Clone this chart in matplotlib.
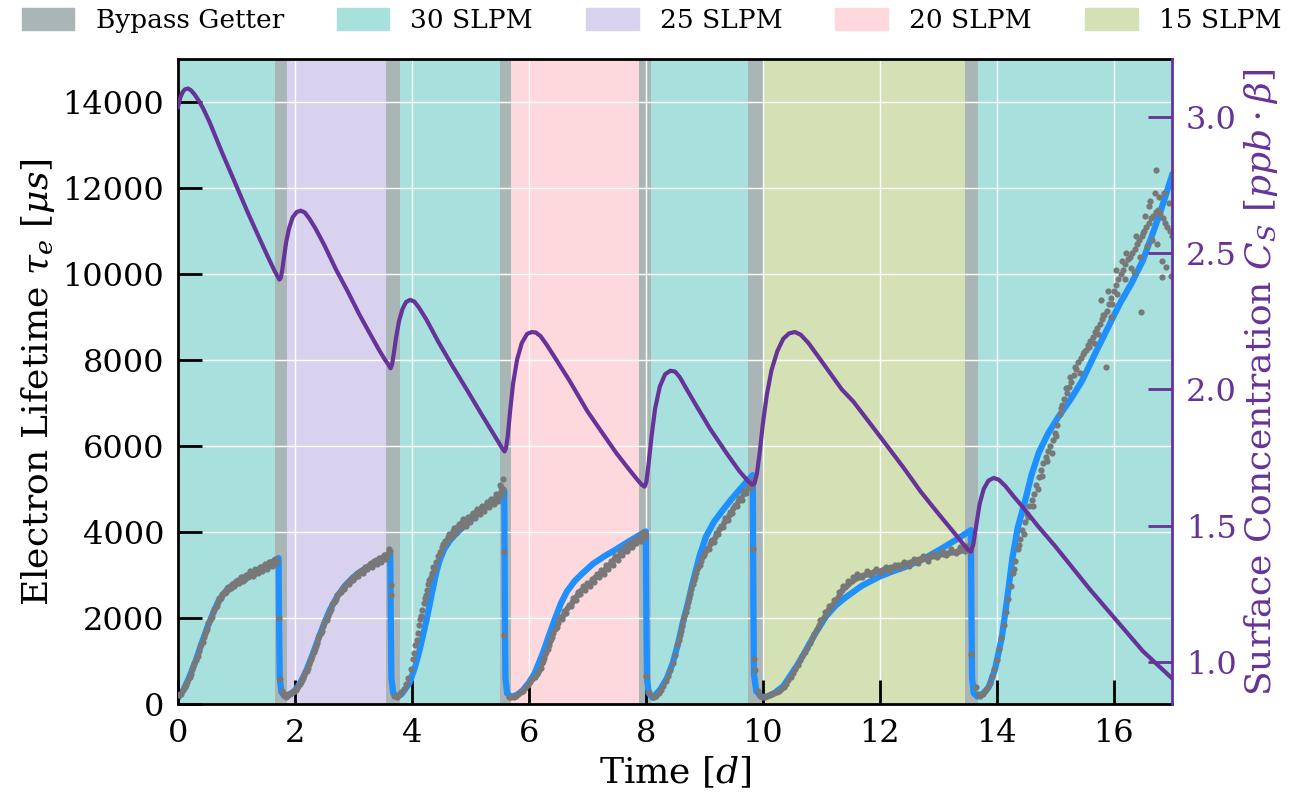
import numpy as np
import matplotlib.pyplot as plt

plt.rcParams['font.family'] = 'DejaVu Serif'
plt.rcParams['mathtext.fontset'] = 'dejavuserif'

# flow periods [d]
getter_bypass = [(1.66, 1.86), (3.55, 3.80), (5.50, 5.70), (7.89, 8.09), (9.75, 10.03), (13.46, 13.69)]
flow_periods = [(0.0, 1.66, "30 SLPM"), (1.86, 3.55, "25 SLPM"), (3.80, 5.50, "30 SLPM"),
                (5.70, 7.89, "20 SLPM"), (8.09, 9.75, "30 SLPM"), (10.03, 13.46, "15 SLPM"),
                (13.69, 17.0, "30 SLPM")]
flow_colors = {"30 SLPM": "#a7e0dc", "25 SLPM": "#d8d2ee", "20 SLPM": "#fdd8dd", "15 SLPM": "#d3e1b4"}
legend_order = ["30 SLPM", "25 SLPM", "20 SLPM", "15 SLPM"]

# model fit of electron lifetime (t [d], tau [us])
fit_pts = [
    (0.00, 150), (0.10, 350), (0.20, 650), (0.30, 1000), (0.40, 1400), (0.50, 1780), (0.60, 2120),
    (0.70, 2420), (0.85, 2680), (1.00, 2830), (1.15, 2950), (1.30, 3060), (1.45, 3170), (1.60, 3290),
    (1.72, 3400), (1.73, 1800), (1.74, 600), (1.77, 280), (1.82, 190), (1.90, 220), (2.00, 320),
    (2.10, 520), (2.20, 800), (2.30, 1150), (2.40, 1520), (2.50, 1880), (2.60, 2200), (2.72, 2500),
    (2.85, 2750), (3.00, 2960), (3.15, 3110), (3.30, 3240), (3.45, 3360), (3.60, 3480), (3.63, 3510),
    (3.64, 1800), (3.65, 600), (3.68, 260), (3.74, 180), (3.82, 230), (3.90, 380), (3.96, 500),
    (4.05, 850), (4.13, 1250), (4.25, 1960), (4.36, 2700), (4.42, 3080), (4.47, 3330), (4.55, 3600),
    (4.65, 3810), (4.76, 3975), (4.95, 4220), (5.21, 4520), (5.40, 4720), (5.50, 4830), (5.58, 4960),
    (5.59, 2000), (5.60, 600), (5.63, 250), (5.70, 170), (5.80, 220), (5.90, 330), (6.00, 500),
    (6.10, 720), (6.24, 1190), (6.35, 1620), (6.45, 2000), (6.55, 2350), (6.65, 2620), (6.78, 2860),
    (6.92, 3050), (7.10, 3270), (7.30, 3450), (7.49, 3600), (7.70, 3780), (7.85, 3900), (8.00, 4020),
    (8.01, 2000), (8.02, 600), (8.05, 260), (8.12, 150), (8.25, 350), (8.36, 600), (8.46, 950),
    (8.55, 1400), (8.63, 1880), (8.72, 2350), (8.80, 2815), (8.92, 3450), (9.03, 3900), (9.17, 4250),
    (9.32, 4520), (9.46, 4760), (9.60, 4985), (9.72, 5170), (9.83, 5330),
    (9.84, 2500), (9.85, 700), (9.89, 300), (9.98, 170), (10.06, 175), (10.20, 260), (10.35, 420),
    (10.46, 640), (10.60, 930), (10.74, 1260), (10.90, 1650), (11.08, 2040), (11.25, 2300),
    (11.43, 2500), (11.70, 2760), (12.00, 2970), (12.20, 3080), (12.45, 3200), (12.75, 3380),
    (13.02, 3590), (13.30, 3820), (13.56, 4050),
    (13.57, 2000), (13.58, 600), (13.61, 260), (13.67, 180), (13.76, 240), (13.86, 385), (13.97, 800),
    (14.09, 1565), (14.18, 2450), (14.27, 3400), (14.36, 4100), (14.49, 4750), (14.60, 5350),
    (14.72, 5850), (14.88, 6300), (15.06, 6690), (15.25, 7060), (15.46, 7520), (15.70, 8200),
    (15.91, 8780), (16.10, 9300), (16.31, 9800), (16.50, 10320), (16.65, 10875), (16.80, 11450),
    (16.94, 12040), (17.00, 12300),
]

# measured electron lifetime
meas_pts = [
    # 30 SLPM
    (0.02, 210), (0.06, 250), (0.10, 380), (0.14, 440), (0.18, 610), (0.22, 700), (0.26, 900),
    (0.30, 1040), (0.34, 1130), (0.38, 1350), (0.42, 1450), (0.46, 1660), (0.50, 1760), (0.54, 1950),
    (0.58, 2040), (0.62, 2210), (0.66, 2280), (0.70, 2460), (0.74, 2480), (0.78, 2600), (0.82, 2620),
    (0.86, 2720), (0.90, 2700), (0.94, 2800), (0.98, 2790), (1.02, 2880), (1.06, 2860), (1.10, 2950),
    (1.14, 2920), (1.18, 3010), (1.22, 2980), (1.26, 3080), (1.30, 3040), (1.34, 3130), (1.38, 3090),
    (1.42, 3190), (1.46, 3150), (1.50, 3240), (1.54, 3220), (1.58, 3320), (1.62, 3260), (1.66, 3390),
    (1.70, 3330), (1.73, 2000), (1.74, 580),
    (0.04, 230), (0.08, 330), (0.12, 400), (0.16, 520), (0.20, 640), (0.24, 820), (0.28, 950),
    (0.32, 1100), (0.36, 1250), (0.40, 1400), (0.44, 1570), (0.48, 1700), (0.52, 1880), (0.56, 2000),
    (0.60, 2150), (0.64, 2250), (0.68, 2380), (0.72, 2450), (0.76, 2560), (0.80, 2580), (0.84, 2700),
    (0.88, 2680), (0.92, 2790), (0.96, 2750), (1.00, 2860), (1.04, 2830), (1.08, 2950), (1.12, 2870),
    (1.16, 3000), (1.20, 2950), (1.24, 3100), (1.28, 2990), (1.32, 3150), (1.36, 3050), (1.40, 3200),
    (1.44, 3100), (1.48, 3260), (1.52, 3150), (1.56, 3300), (1.60, 3210), (1.64, 3360), (1.68, 3280),
    # 25 SLPM
    (1.78, 300), (1.82, 220), (1.86, 200), (1.90, 230), (1.94, 260), (1.98, 300), (2.02, 340),
    (2.06, 430), (2.10, 520), (2.14, 600), (2.18, 740), (2.22, 840), (2.26, 1000), (2.30, 1120),
    (2.34, 1290), (2.38, 1420), (2.42, 1600), (2.46, 1700), (2.50, 1880), (2.54, 1960), (2.58, 2130),
    (2.62, 2210), (2.66, 2380), (2.70, 2440), (2.74, 2560), (2.78, 2610), (2.82, 2700), (2.86, 2740),
    (2.90, 2830), (2.94, 2860), (2.98, 2940), (3.02, 2960), (3.06, 3050), (3.10, 3050), (3.14, 3120),
    (3.18, 3130), (3.22, 3200), (3.26, 3210), (3.30, 3280), (3.34, 3260), (3.38, 3350), (3.42, 3330),
    (3.46, 3410), (3.50, 3380), (3.54, 3470), (3.58, 3430), (3.62, 3560), (3.65, 2775), (3.65, 2550),
    (1.80, 260), (1.84, 180), (1.88, 240), (1.92, 250), (1.96, 290), (2.00, 330), (2.04, 380),
    (2.08, 470), (2.12, 570), (2.16, 680), (2.20, 780), (2.24, 930), (2.28, 1060), (2.32, 1220),
    (2.36, 1360), (2.40, 1530), (2.44, 1660), (2.48, 1810), (2.52, 1950), (2.56, 2060), (2.60, 2180),
    (2.64, 2330), (2.68, 2400), (2.72, 2530), (2.76, 2580), (2.80, 2680), (2.84, 2690), (2.88, 2800),
    (2.92, 2790), (2.96, 2910), (3.00, 2880), (3.04, 3020), (3.08, 2990), (3.12, 3110), (3.16, 3060),
    (3.20, 3190), (3.24, 3140), (3.28, 3270), (3.32, 3200), (3.36, 3330), (3.40, 3260), (3.44, 3400),
    (3.48, 3320), (3.52, 3470), (3.56, 3390), (3.60, 3520), (3.61, 3600),
    # 30 SLPM
    (3.70, 200), (3.74, 180), (3.78, 220), (3.82, 280), (3.86, 350), (3.90, 460), (3.94, 600),
    (3.98, 820), (4.02, 1050), (4.06, 1380), (4.10, 1650), (4.14, 1980), (4.18, 2200), (4.22, 2480),
    (4.26, 2650), (4.30, 2900), (4.34, 3050), (4.38, 3150), (4.42, 3300), (4.46, 3480), (4.50, 3560),
    (4.54, 3720), (4.58, 3760), (4.62, 3900), (4.66, 3920), (4.70, 4030), (4.74, 4020), (4.78, 4130),
    (4.82, 4120), (4.86, 4230), (4.90, 4200), (4.94, 4310), (4.98, 4290), (5.02, 4400), (5.06, 4360),
    (5.10, 4480), (5.14, 4450), (5.18, 4560), (5.22, 4510), (5.26, 4640), (5.30, 4600), (5.34, 4720),
    (5.38, 4680), (5.42, 4790), (5.46, 4760), (5.50, 4900), (5.52, 5050), (5.54, 4860), (5.56, 5230),
    (5.57, 3550), (5.57, 1610),
    (4.04, 1200), (4.08, 1500), (4.12, 1850), (4.16, 2050), (4.20, 2350), (4.24, 2550), (4.28, 2800),
    (4.32, 2950), (4.36, 3200), (4.40, 3150), (4.44, 3450), (4.48, 3550), (4.52, 3650), (4.56, 3800),
    (4.60, 3820), (4.64, 3950), (4.68, 3880), (4.72, 4100), (4.76, 3980), (4.80, 4200), (4.84, 4100),
    (4.88, 4300), (4.92, 4150), (4.96, 4350), (5.00, 4250), (5.04, 4450), (5.08, 4330), (5.12, 4550),
    (5.16, 4420), (5.20, 4620), (5.24, 4500), (5.28, 4700), (5.32, 4580), (5.36, 4780), (5.40, 4650),
    (5.44, 4880), (5.48, 4720), (5.51, 5100), (5.53, 4950), (5.55, 5000),
    # 20 SLPM
    (5.66, 180), (5.70, 160), (5.74, 170), (5.78, 200), (5.82, 240), (5.86, 280), (5.90, 320),
    (5.94, 380), (5.98, 440), (6.02, 520), (6.06, 580), (6.10, 640), (6.14, 700), (6.18, 800),
    (6.22, 950), (6.26, 1080), (6.30, 1220), (6.34, 1380), (6.38, 1520), (6.42, 1650), (6.46, 1780),
    (6.50, 1900), (6.54, 2000), (6.58, 2080), (6.62, 2160), (6.66, 2230), (6.70, 2300), (6.74, 2380),
    (6.78, 2460), (6.82, 2540), (6.86, 2600), (6.90, 2660), (6.94, 2700), (6.98, 2740), (7.02, 2800),
    (7.06, 2850), (7.10, 2900), (7.14, 2950), (7.18, 3000), (7.22, 3060), (7.26, 3100), (7.30, 3150),
    (7.34, 3200), (7.38, 3260), (7.42, 3310), (7.46, 3370), (7.50, 3410), (7.54, 3470), (7.58, 3510),
    (7.62, 3560), (7.66, 3600), (7.70, 3630), (7.74, 3680), (7.78, 3720), (7.82, 3770), (7.86, 3810),
    (7.90, 3850), (7.94, 3890), (7.98, 3950), (8.01, 650),
    (6.16, 740), (6.20, 850), (6.24, 1000), (6.28, 1180), (6.32, 1280), (6.36, 1480), (6.40, 1560),
    (6.44, 1760), (6.48, 1800), (6.52, 2020), (6.56, 1980), (6.60, 2160), (6.64, 2130), (6.68, 2300),
    (6.72, 2280), (6.76, 2470), (6.80, 2430), (6.84, 2620), (6.88, 2560), (6.92, 2740), (6.96, 2660),
    (7.00, 2820), (7.04, 2760), (7.08, 2920), (7.12, 2840), (7.16, 3020), (7.20, 2950), (7.24, 3130),
    (7.28, 3040), (7.32, 3230), (7.36, 3150), (7.40, 3330), (7.44, 3250), (7.48, 3450), (7.52, 3360),
    (7.56, 3560), (7.60, 3480), (7.64, 3660), (7.68, 3570), (7.72, 3740), (7.76, 3660), (7.80, 3830),
    (7.84, 3740), (7.88, 3920), (7.92, 3800), (7.96, 4000), (7.99, 3880),
    # 30 SLPM
    (8.06, 280), (8.10, 200), (8.14, 170), (8.18, 200), (8.22, 260), (8.26, 330), (8.30, 420),
    (8.34, 540), (8.38, 660), (8.42, 800), (8.46, 960), (8.50, 1150), (8.54, 1380), (8.58, 1600),
    (8.62, 1830), (8.66, 2050), (8.70, 2260), (8.74, 2470), (8.78, 2680), (8.82, 2880), (8.86, 3050),
    (8.90, 3200), (8.94, 3330), (8.98, 3440), (9.02, 3540), (9.06, 3640), (9.10, 3730), (9.14, 3820),
    (9.18, 3900), (9.22, 3980), (9.26, 4080), (9.30, 4150), (9.34, 4240), (9.38, 4320), (9.42, 4400),
    (9.46, 4480), (9.50, 4560), (9.54, 4640), (9.58, 4720), (9.62, 4800), (9.66, 4880), (9.70, 4950),
    (9.74, 5020), (9.78, 5090), (9.82, 5150), (9.84, 3610), (9.85, 1050), (9.86, 800),
    (8.56, 1500), (8.60, 1700), (8.64, 1950), (8.68, 2150), (8.72, 2380), (8.76, 2560), (8.80, 2800),
    (8.84, 2950), (8.88, 3150), (8.92, 3230), (8.96, 3420), (9.00, 3460), (9.04, 3620), (9.08, 3620),
    (9.12, 3800), (9.16, 3780), (9.20, 3980), (9.24, 3970), (9.28, 4150), (9.32, 4130), (9.36, 4330),
    (9.40, 4290), (9.44, 4470), (9.48, 4440), (9.52, 4640), (9.56, 4600), (9.60, 4800), (9.64, 4760),
    (9.68, 4960), (9.72, 4920), (9.76, 5100), (9.80, 5060), (9.83, 5250),
    # 15 SLPM
    (9.92, 300), (9.96, 200), (10.00, 170), (10.04, 180), (10.08, 200), (10.12, 220), (10.16, 240),
    (10.20, 260), (10.24, 290), (10.28, 320), (10.32, 360), (10.36, 410), (10.40, 480), (10.44, 560),
    (10.48, 640), (10.52, 720), (10.56, 820), (10.60, 920), (10.64, 1020), (10.68, 1120),
    (10.72, 1210), (10.76, 1310), (10.80, 1420), (10.84, 1530), (10.88, 1640), (10.92, 1750),
    (10.96, 1850), (11.00, 1950), (11.04, 2040), (11.08, 2120), (11.12, 2200), (11.16, 2270),
    (11.20, 2340), (11.24, 2420), (11.28, 2500), (11.32, 2580), (11.36, 2650), (11.40, 2720),
    (11.44, 2780), (11.48, 2830), (11.52, 2870), (11.56, 2910), (11.60, 2940), (11.64, 2970),
    (11.68, 2990), (11.72, 3010), (11.76, 3030), (11.80, 3040), (11.84, 3060), (11.88, 3070),
    (11.92, 3090), (11.96, 3100), (12.00, 3110), (12.04, 3130), (12.08, 3140), (12.12, 3160),
    (12.16, 3170), (12.20, 3190), (12.24, 3200), (12.28, 3220), (12.32, 3230), (12.36, 3250),
    (12.40, 3260), (12.44, 3280), (12.48, 3290), (12.52, 3310), (12.56, 3320), (12.60, 3340),
    (12.64, 3350), (12.68, 3370), (12.72, 3380), (12.76, 3400), (12.80, 3410), (12.84, 3420),
    (12.88, 3440), (12.92, 3450), (12.96, 3460), (13.00, 3480), (13.04, 3490), (13.08, 3500),
    (13.12, 3510), (13.16, 3520), (13.20, 3530), (13.24, 3540), (13.28, 3550), (13.32, 3560),
    (13.36, 3570), (13.40, 3580), (13.44, 3590), (13.48, 3600), (13.52, 3610), (13.57, 1170),
    (10.98, 1950), (11.06, 2150), (11.14, 2280), (11.22, 2420), (11.30, 2600), (11.38, 2750),
    (11.46, 2870), (11.54, 2960), (11.62, 3020), (11.70, 2960), (11.78, 3100), (11.86, 3010),
    (11.94, 3150), (12.02, 3060), (12.10, 3190), (12.18, 3110), (12.26, 3240), (12.34, 3160),
    (12.42, 3300), (12.50, 3220), (12.58, 3370), (12.66, 3280), (12.74, 3440), (12.82, 3340),
    (12.90, 3500), (12.98, 3420), (13.06, 3560), (13.14, 3470), (13.22, 3610), (13.30, 3520),
    (13.38, 3660), (13.46, 3560), (13.50, 3680), (13.54, 3570),
    # 30 SLPM
    (13.64, 400), (13.68, 230), (13.72, 200), (13.76, 230), (13.80, 300), (13.84, 380), (13.88, 500),
    (13.92, 650), (13.96, 820), (14.00, 1030), (14.04, 1280), (14.08, 1550), (14.12, 1850),
    (14.16, 2150), (14.20, 2450), (14.24, 2750), (14.28, 3050), (14.32, 3330), (14.36, 3600),
    (14.40, 3850), (14.44, 4050), (14.48, 4250), (14.52, 4420), (14.56, 4600), (14.60, 4750),
    (14.64, 4900), (14.68, 5100), (14.72, 5280), (14.76, 5450), (14.80, 5600), (14.84, 5750),
    (14.88, 5880), (14.92, 6000), (14.96, 6150), (15.00, 6300), (15.04, 6500), (15.08, 6750),
    (15.12, 6950), (15.16, 7100), (15.20, 7250), (15.24, 7380), (15.28, 7500), (15.32, 7650),
    (15.36, 7800), (15.40, 7950), (15.44, 8050), (15.48, 8150), (15.52, 8250), (15.56, 8350),
    (15.60, 8450), (15.64, 8550), (15.68, 8650), (15.72, 8750), (15.76, 8850), (15.80, 8950),
    (15.84, 9050), (15.88, 9150), (15.92, 9300), (15.96, 9450), (16.00, 9600), (16.04, 9750),
    (16.08, 9900), (16.12, 10000), (16.16, 10100), (16.20, 10250), (16.24, 10350), (16.28, 10400),
    (16.32, 10500), (16.36, 10600), (16.40, 10700), (16.44, 10800), (16.48, 10900), (16.52, 11000),
    (16.56, 11100), (16.60, 11200), (16.64, 11300), (16.68, 11350), (16.72, 11450), (16.76, 11500),
    (16.80, 11400), (16.84, 11300), (16.88, 11200), (16.92, 11100), (16.96, 11000), (17.00, 10900),
    (14.30, 3150), (14.38, 3700), (14.46, 3950), (14.54, 4350), (14.62, 4600), (14.70, 5000),
    (14.78, 5300), (14.86, 5650), (14.94, 5850), (15.02, 6250), (15.10, 6900), (15.18, 7350),
    (15.26, 7600), (15.34, 7850), (15.42, 7700), (15.50, 8200), (15.58, 8300), (15.66, 8400),
    (15.74, 8600), (15.82, 9050), (15.87, 7850), (15.90, 9600), (15.98, 9300), (16.06, 9550),
    (16.14, 10300), (16.22, 10500), (16.30, 10150), (16.38, 10900), (16.46, 10400), (16.47, 9130),
    (16.54, 11350), (16.58, 10650), (16.62, 11700), (16.66, 10800), (16.70, 11900), (16.72, 12420),
    (16.74, 10700), (16.78, 11800), (16.82, 10300), (16.86, 11900), (16.90, 10170), (16.94, 11650),
    (16.98, 9950), (16.83, 9945), (16.60, 11600), (16.50, 10950), (16.35, 10050), (16.20, 9900),
    (16.05, 10100), (15.95, 9000), (15.78, 9400),
]

# surface concentration C_S [ppb*beta]
conc_pts = [
    (0.00, 3.035), (0.04, 3.07), (0.08, 3.09), (0.12, 3.10), (0.17, 3.103), (0.22, 3.097),
    (0.28, 3.082), (0.35, 3.06), (0.43, 3.03), (0.54, 2.98), (0.75, 2.87), (1.00, 2.745),
    (1.20, 2.645), (1.40, 2.55), (1.55, 2.48), (1.65, 2.435), (1.70, 2.415), (1.735, 2.402),
    (1.76, 2.41), (1.785, 2.44), (1.81, 2.48), (1.85, 2.54), (1.90, 2.59), (1.96, 2.63), (2.03, 2.65),
    (2.10, 2.655), (2.17, 2.648), (2.25, 2.625), (2.35, 2.59), (2.50, 2.53), (2.70, 2.44),
    (2.90, 2.36), (3.10, 2.275), (3.28, 2.205), (3.45, 2.14), (3.55, 2.105), (3.60, 2.09),
    (3.635, 2.077), (3.66, 2.09), (3.69, 2.13), (3.73, 2.19), (3.78, 2.25), (3.84, 2.295),
    (3.90, 2.32), (3.97, 2.328), (4.04, 2.322), (4.12, 2.30), (4.25, 2.255), (4.45, 2.175),
    (4.70, 2.083), (4.95, 1.995), (5.20, 1.905), (5.40, 1.835), (5.50, 1.80), (5.55, 1.782),
    (5.585, 1.772), (5.61, 1.785), (5.64, 1.83), (5.68, 1.92), (5.73, 2.02), (5.80, 2.11),
    (5.88, 2.17), (5.97, 2.203), (6.05, 2.21), (6.12, 2.208), (6.20, 2.195), (6.30, 2.165),
    (6.45, 2.115), (6.70, 2.03), (7.00, 1.92), (7.26, 1.839), (7.50, 1.765), (7.70, 1.71),
    (7.85, 1.67), (7.93, 1.65), (7.98, 1.643), (8.01, 1.66), (8.05, 1.73), (8.10, 1.83), (8.16, 1.93),
    (8.24, 2.01), (8.33, 2.055), (8.42, 2.068), (8.50, 2.065), (8.58, 2.045), (8.70, 2.00),
    (8.85, 1.945), (9.10, 1.855), (9.40, 1.76), (9.60, 1.70), (9.74, 1.665), (9.82, 1.65),
    (9.86, 1.655), (9.90, 1.69), (9.95, 1.77), (10.00, 1.87), (10.07, 1.98), (10.15, 2.07),
    (10.25, 2.14), (10.35, 2.185), (10.45, 2.205), (10.55, 2.21), (10.65, 2.20), (10.78, 2.17),
    (10.95, 2.12), (11.15, 2.06), (11.35, 2.00), (11.55, 1.955), (11.80, 1.885), (12.10, 1.80),
    (12.40, 1.715), (12.70, 1.625), (13.00, 1.545), (13.25, 1.48), (13.42, 1.435), (13.52, 1.41),
    (13.56, 1.405), (13.60, 1.43), (13.65, 1.50), (13.71, 1.58), (13.78, 1.635), (13.86, 1.665),
    (13.95, 1.675), (14.04, 1.668), (14.15, 1.645), (14.30, 1.605), (14.44, 1.57), (14.70, 1.50),
    (15.00, 1.425), (15.30, 1.345), (15.60, 1.265), (15.90, 1.19), (16.20, 1.115), (16.50, 1.04),
    (16.80, 0.98), (17.00, 0.94),
]

fit_t, fit_tau = np.array(fit_pts).T
meas_t, meas_tau = np.array(meas_pts).T
conc_t, conc_c = np.array(conc_pts).T

purple = "#663399"

fig = plt.figure(figsize=(13.03, 8.07), dpi=100)
ax = fig.add_axes([0.1366, 0.1273, 0.7629, 0.7992])

for a, b, lab in flow_periods:
    ax.axvspan(a, b, color=flow_colors[lab], lw=0, zorder=0.5)
for a, b in getter_bypass:
    ax.axvspan(a, b, color="#aab6b5", lw=0, zorder=0.6)

ax.plot(fit_t, fit_tau, color="#1e90ff", lw=4.5, zorder=2)
ax.scatter(meas_t, meas_tau, s=20, color="#787878", lw=0, zorder=3)

ax.set_xlim(0, 17)
ax.set_ylim(0, 15000)
ax.set_xticks(np.arange(0, 17, 2))
ax.set_yticks(np.arange(0, 15000, 2000))
ax.grid(True, color="white", lw=1.0)
ax.tick_params(direction="in", length=17, width=2, labelsize=23, pad=10)
for s in ["left", "bottom", "top"]:
    ax.spines[s].set_linewidth(2)
ax.spines["right"].set_visible(False)
ax.set_xlabel("Time [$d$]", fontsize=26)
ax.set_ylabel(r"Electron Lifetime $\tau_e$ [$\mu s$]", fontsize=26)

ax2 = ax.twinx()
ax2.plot(conc_t, conc_c, color=purple, lw=3)
ax2.set_ylim(0.845, 3.21)
ax2.set_yticks([1.0, 1.5, 2.0, 2.5, 3.0])
ax2.tick_params(direction="in", length=17, width=2, labelsize=23, pad=10,
                color=purple, labelcolor=purple)
ax2.spines["right"].set_color(purple)
ax2.spines["right"].set_linewidth(2)
ax2.spines["left"].set_visible(False)
ax2.spines["top"].set_visible(False)
ax2.spines["bottom"].set_visible(False)
ax2.set_ylabel(r"Surface Concentration $C_S$ [$ppb \cdot \beta$]", fontsize=26, color=purple)

handles = [plt.Rectangle((0, 0), 1, 1, color="#aab6b5")]
labels = ["Bypass Getter"]
for lab in legend_order:
    handles.append(plt.Rectangle((0, 0), 1, 1, color=flow_colors[lab]))
    labels.append(lab)
fig.legend(handles, labels, loc="upper center", ncol=5, frameon=False, fontsize=19,
           bbox_to_anchor=(0.5, 1.02), handleheight=0.9)

fig.savefig("out.png", dpi=100)
